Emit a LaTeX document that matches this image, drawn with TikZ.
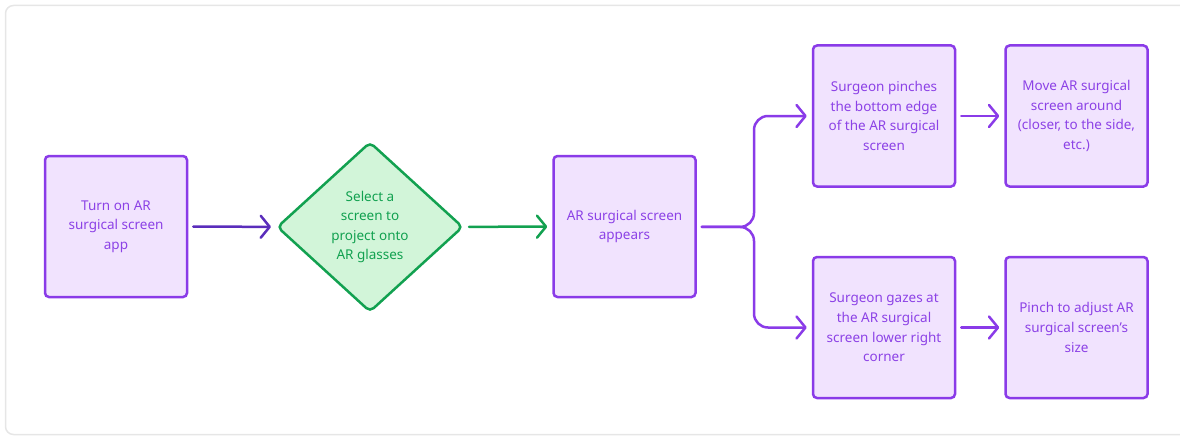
\documentclass[tikz,border=0pt]{standalone}
\usepackage{fontspec}
\setmainfont{Noto Sans}
\usetikzlibrary{arrows.meta}
\usetikzlibrary{shapes.geometric}
\usetikzlibrary{positioning}
\definecolor{stepline}{HTML}{8A3BE8}
\definecolor{stepfill}{HTML}{F1E3FE}
\definecolor{steptext}{HTML}{8C42E6}
\definecolor{startarrow}{HTML}{5A2DBB}
\definecolor{choiceline}{HTML}{12A150}
\definecolor{choicefill}{HTML}{D2F5D9}
\definecolor{choicetext}{HTML}{12A150}
\definecolor{framegray}{HTML}{E6E6E6}
\tikzset{
  stepbox/.style={draw=stepline, fill=stepfill, text=steptext, line width=2.5pt,
    rounded corners=4pt, minimum width=142pt, minimum height=141pt, inner sep=0pt,
    align=center, font=\fontsize{13.5}{19.6}\selectfont},
  choice/.style={diamond, draw=choiceline, fill=choicefill, text=choicetext, line width=2.5pt,
    rounded corners=5pt, minimum width=186pt, minimum height=170pt, inner sep=0pt,
    align=center, font=\fontsize{13.5}{19.6}\selectfont},
  flow/.style={line width=2.5pt, line cap=round, rounded corners=14pt,
    -{Straight Barb[length=9pt,width=22pt,round]}, shorten <=5pt, shorten >=5pt}
}
\begin{document}
\begin{tikzpicture}[x=1pt, y=-1pt]

    \clip (0,0) rectangle (1180,436);
    \draw[framegray, line width=1.5pt, rounded corners=8pt] (5.5,5.5) rectangle (1200,434.5);

    \node[stepbox] (start) at (116,226.5) {Turn on AR\\surgical screen\\app};
    \node[choice] (select) at (370,227) {Select a\\screen to\\project onto\\AR glasses};
    \node[stepbox] (appear) at (624.5,226.5) {AR surgical screen\\appears};
    \node[stepbox] (pinch) at (884,116) {Surgeon pinches\\the bottom edge\\of the AR surgical\\screen};
    \node[stepbox] (move) at (1076.5,116) {Move AR surgical\\screen around\\(closer, to the side,\\etc.)};
    \node[stepbox] (gaze) at (884,327.5) {Surgeon gazes at\\the AR surgical\\screen lower right\\corner};
    \node[stepbox] (resize) at (1076.5,327.5) {Pinch to adjust AR\\surgical screen’s\\size};

    \coordinate (split) at (754,227);

    \draw[flow, startarrow] (start) -- (select);
    \draw[flow, choiceline] (select) -- (appear);
    \draw[flow, stepline] (appear) -- (split) |- (pinch);
    \draw[flow, stepline] (appear) -- (split) |- (gaze);
    \draw[flow, stepline] (pinch) -- (move);
    \draw[flow, stepline] (gaze) -- (resize);

\end{tikzpicture}
\end{document}
